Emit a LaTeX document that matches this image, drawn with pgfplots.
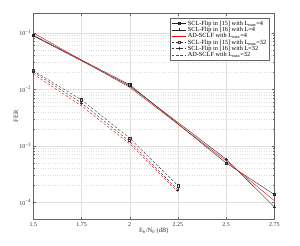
\documentclass[border=0pt]{standalone}
\usepackage{fontspec}
\setmainfont{Liberation Serif}
\usepackage{pgfplots}
\pgfplotsset{compat=1.18}
\begin{document}
\fontsize{6}{7}\selectfont
\begin{tikzpicture}
\path[use as bounding box] (0,0) rectangle (300pt,246pt);
\begin{axis}[
  at={(33.3pt,26.7pt)}, anchor=south west,
  width=241pt, height=206pt, scale only axis,
  ymode=log,
  xmin=1.5, xmax=2.75, ymin=5e-5, ymax=0.22,
  xtick={1.5,1.75,2,2.25,2.5,2.75},
  xticklabels={1.5,1.75,2,2.25,2.5,2.75},
  ytick={1e-4,1e-3,1e-2,1e-1},
  yticklabels={10\textsuperscript{−4},10\textsuperscript{−3},10\textsuperscript{−2},10\textsuperscript{−1}},
  tick align=inside,
  major tick length=2.5pt, minor tick length=1.5pt,
  axis line style={draw=black!60, line width=0.4pt},
  every tick/.style={draw=black!60, line width=0.3pt},
  grid=both,
  major grid style={draw=black!12, line width=0.3pt},
  minor grid style={draw=black!12, dotted, line width=0.3pt},
  ticklabel style={font=\fontsize{6}{7}\selectfont, text=black!80},
  xticklabel style={yshift=-1pt},
  xlabel={E\textsubscript{b}/N\textsubscript{0} (dB)},
  ylabel={FER},
  label style={font=\fontsize{6.5}{7}\selectfont, text=black!80},
  xlabel style={yshift=3pt},
  ylabel style={yshift=-3pt},
  legend cell align=left,
  legend style={at={(0.978,0.976)}, anchor=north east,
    draw=black!60, fill=white, line width=0.4pt,
    font=\fontsize{6.3}{7}\selectfont, inner sep=1pt, row sep=-2pt,
    nodes={inner sep=1.5pt}},
  legend image code/.code={
    \draw[mark repeat=2,mark phase=2,#1] plot coordinates {(0cm,0cm) (0.25cm,0cm) (0.5cm,0cm)};},
  legend image post style={line width=0.4pt},
]
\addplot[black!85, line width=0.4pt, mark=square, mark size=1.1pt, mark options={solid}]
  coordinates {(1.5,0.090) (2,0.0120) (2.5,4.94e-4) (2.75,1.37e-4)};
\addlegendentry{SCL-Flip in [15] with L\textsubscript{max}=4}
\addplot[black!85, line width=0.4pt, mark=+, mark size=1.5pt, mark options={solid}]
  coordinates {(1.5,0.088) (2,0.0114) (2.5,5.82e-4) (2.75,8.3e-5)};
\addlegendentry{SCL-Flip in [16] with L=4}
\addplot[red, line width=0.4pt]
  coordinates {(1.5,0.099) (2,0.0108) (2.5,5.4e-4) (2.75,1.07e-4)};
\addlegendentry{AD-SCLF with L\textsubscript{max}=4}
\addplot[black!80, dash pattern=on 2.5pt off 1.8pt, line width=0.4pt, mark=square, mark size=1.1pt, mark options={solid}]
  coordinates {(1.5,0.0212) (1.75,0.0065) (2,1.36e-3) (2.25,1.97e-4)};
\addlegendentry{SCL-Flip in [15] with L\textsubscript{max}=32}
\addplot[black!80, dash pattern=on 2.5pt off 1.8pt, line width=0.4pt, mark=+, mark size=1.5pt, mark options={solid}]
  coordinates {(1.5,0.0201) (1.75,0.0057) (2,1.19e-3) (2.25,1.65e-4)};
\addlegendentry{SCL-Flip in [16] with L=32}
\addplot[red, dash pattern=on 2.5pt off 1.8pt, line width=0.4pt]
  coordinates {(1.5,0.0185) (1.75,0.00506) (2,1.08e-3) (2.25,1.52e-4)};
\addlegendentry{AD-SCLF with L\textsubscript{max}=32}
\end{axis}
\end{tikzpicture}
\end{document}
